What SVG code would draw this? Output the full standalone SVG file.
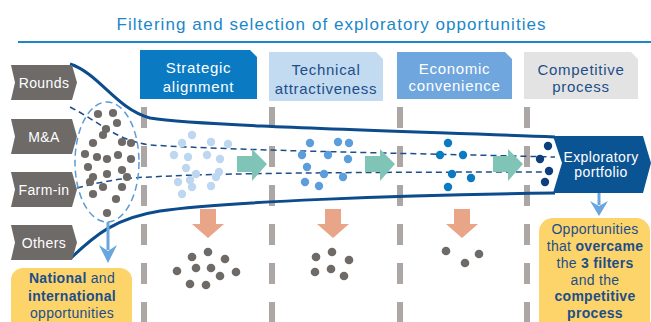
<svg xmlns="http://www.w3.org/2000/svg" width="651" height="322" viewBox="0 0 651 322">
<style>
text{font-family:"Liberation Sans",Arial,sans-serif}
.title{font-size:17px;fill:#1a87c8}
.lab{font-size:14px;fill:#fff;letter-spacing:0.4px}
.chev{fill:#6e6a68}
.hd{font-size:15px;letter-spacing:0.7px}
.w{fill:#fff}
.dk{fill:#1d4e89}
.yt{font-size:14px;fill:#1d4e89;letter-spacing:0.3px}
.b{font-weight:bold}
.bar{stroke:#aca7a5;stroke-width:6;stroke-dasharray:21 18}
.curve{fill:none;stroke:#0c4c8c;stroke-width:3}
.dash{fill:none;stroke:#1d4e89;stroke-width:1.5;stroke-dasharray:6 4}
.g{fill:#6e6a68}
.d1{fill:#bcd7ef}
.d2{fill:#5c9ddb}
.d3{fill:#0a7bc2}
.d4{fill:#0c3f7c}
.teal{fill:#7fc4b6}
.sal{fill:#e8a587}
.yel{fill:#fdd46a}
.barrow{fill:#6aa6de}
</style>
<defs>
<path id="chev" d="M0,0 H61 L66,17.5 L61,35 H0 L4,17.5 Z"/>
<path id="teal" d="M0,-8 H15 V-15 L30,0 L15,17 V8 H0 Z"/>
<path id="sal" d="M-8,0 H8 V15 H16 L0,29 L-16,15 H-8 Z"/>
</defs>

<g id="title">
<text class="title" x="331" y="30" text-anchor="middle" textLength="429" lengthAdjust="spacing">Filtering and selection of exploratory opportunities</text>
<line x1="18" y1="42" x2="651" y2="42" stroke="#1a87c8" stroke-width="2"/>
</g>

<g id="filters">
<line class="bar" x1="144" y1="107" x2="144" y2="322"/>
<line class="bar" x1="272" y1="107" x2="272" y2="322"/>
<line class="bar" x1="400" y1="107" x2="400" y2="322"/>
<line class="bar" x1="527" y1="107" x2="527" y2="322"/>
</g>

<g id="connectors">
<path class="curve" d="M70,64 C100,74 115,108 150,118 C200,126 400,131 555,137"/>
<path class="curve" d="M70,259 C95,235 115,218 160,211 C220,202 400,195 555,193"/>
<path class="dash" d="M70,107 C100,122 115,140 150,145 C250,151 400,153 555,157"/>
<path class="dash" d="M77,188 C100,182 120,178 150,177 C200,174 300,172 555,172"/>
<ellipse cx="107" cy="162" rx="32" ry="60" fill="none" stroke="#5b9bd5" stroke-width="1.5" stroke-dasharray="7 4"/>
<line x1="108" y1="222" x2="108" y2="250" stroke="#6aa6de" stroke-width="3"/>
<polygon class="barrow" points="99,245 108,263 117,245 108,251"/>
<line x1="599" y1="193" x2="599" y2="205" stroke="#6aa6de" stroke-width="3"/>
<polygon class="barrow" points="590,201 599,216 608,201 599,206"/>
<use href="#teal" class="teal" x="237" y="164"/>
<use href="#teal" class="teal" x="365" y="164"/>
<use href="#teal" class="teal" x="493" y="164"/>
<use href="#sal" class="sal" x="208" y="209"/>
<use href="#sal" class="sal" x="333" y="209"/>
<use href="#sal" class="sal" x="462" y="209"/>
</g>

<g id="rounds"><use href="#chev" class="chev" x="11" y="65"/><text class="lab" x="44" y="87.5" text-anchor="middle">Rounds</text></g>
<g id="ma"><use href="#chev" class="chev" x="11" y="119"/><text class="lab" x="44" y="141.5" text-anchor="middle">M&amp;A</text></g>
<g id="farmin"><use href="#chev" class="chev" x="11" y="172"/><text class="lab" x="44" y="194.5" text-anchor="middle">Farm-in</text></g>
<g id="others"><use href="#chev" class="chev" x="11" y="225"/><text class="lab" x="44" y="247.5" text-anchor="middle">Others</text></g>

<g id="strategic">
<path d="M140,50 H250 L257,57 V99 H140 Z" fill="#0a7bc2"/>
<text class="hd w" x="198.5" y="73" text-anchor="middle">Strategic</text>
<text class="hd w" x="198.5" y="92" text-anchor="middle">alignment</text>
</g>
<g id="technical">
<path d="M269,52 H376 L383,59 V101 H269 Z" fill="#c3dbf0"/>
<text class="hd dk" x="326" y="75" text-anchor="middle">Technical</text>
<text class="hd dk" x="326" y="94" text-anchor="middle">attractiveness</text>
</g>
<g id="economic">
<path d="M397,52 H505 L512,59 V99 H397 Z" fill="#6ea6dd"/>
<text class="hd w" x="454.5" y="74" text-anchor="middle">Economic</text>
<text class="hd w" x="454.5" y="91" text-anchor="middle">convenience</text>
</g>
<g id="competitive">
<path d="M524,52 H631 L638,59 V99 H524 Z" fill="#e3e3e3"/>
<text class="hd dk" x="581" y="75" text-anchor="middle">Competitive</text>
<text class="hd dk" x="581" y="92" text-anchor="middle">process</text>
</g>

<g id="pool">
<circle class="g" cx="98" cy="114" r="4.1"/><circle class="g" cx="113" cy="113" r="4.1"/><circle class="g" cx="117" cy="123" r="4.1"/>
<circle class="g" cx="106" cy="129" r="4.1"/><circle class="g" cx="103" cy="135" r="4.1"/><circle class="g" cx="93" cy="143" r="4.1"/>
<circle class="g" cx="122" cy="142" r="4.1"/><circle class="g" cx="131" cy="143" r="4.1"/><circle class="g" cx="85" cy="154" r="4.1"/>
<circle class="g" cx="97" cy="157" r="4.1"/><circle class="g" cx="107" cy="159" r="4.1"/><circle class="g" cx="118" cy="155" r="4.1"/>
<circle class="g" cx="131" cy="159" r="4.1"/><circle class="g" cx="88" cy="167" r="4.1"/><circle class="g" cx="107" cy="174" r="4.1"/>
<circle class="g" cx="122" cy="170" r="4.1"/><circle class="g" cx="127" cy="177" r="4.1"/><circle class="g" cx="93" cy="177" r="4.1"/>
<circle class="g" cx="90" cy="182" r="4.1"/><circle class="g" cx="103" cy="187" r="4.1"/><circle class="g" cx="122" cy="187" r="4.1"/>
<circle class="g" cx="93" cy="194" r="4.1"/><circle class="g" cx="116" cy="199" r="4.1"/><circle class="g" cx="107" cy="213" r="4.1"/>
</g>

<g id="stage1">
<circle class="d1" cx="192" cy="135" r="4.2"/><circle class="d1" cx="182" cy="143" r="4.2"/><circle class="d1" cx="211" cy="142" r="4.2"/>
<circle class="d1" cx="228" cy="144" r="4.2"/><circle class="d1" cx="174" cy="155" r="4.2"/><circle class="d1" cx="188" cy="157" r="4.2"/>
<circle class="d1" cx="207" cy="155" r="4.2"/><circle class="d1" cx="220" cy="159" r="4.2"/><circle class="d1" cx="186" cy="168" r="4.2"/>
<circle class="d1" cx="196" cy="174" r="4.2"/><circle class="d1" cx="219" cy="172" r="4.2"/><circle class="d1" cx="190" cy="180" r="4.2"/>
<circle class="d1" cx="216" cy="177" r="4.2"/><circle class="d1" cx="178" cy="182" r="4.2"/><circle class="d1" cx="192" cy="187" r="4.2"/>
<circle class="d1" cx="211" cy="186" r="4.2"/><circle class="d1" cx="182" cy="194" r="4.2"/>
</g>
<g id="stage2">
<circle class="d2" cx="310" cy="143" r="4.2"/><circle class="d2" cx="338" cy="142" r="4.2"/><circle class="d2" cx="349" cy="143" r="4.2"/>
<circle class="d2" cx="302" cy="155" r="4.2"/><circle class="d2" cx="328" cy="155" r="4.2"/><circle class="d2" cx="348" cy="159" r="4.2"/>
<circle class="d2" cx="307" cy="167" r="4.2"/><circle class="d2" cx="324" cy="174" r="4.2"/><circle class="d2" cx="343" cy="177" r="4.2"/>
<circle class="d2" cx="305" cy="182" r="4.2"/><circle class="d2" cx="319" cy="186" r="4.2"/>
</g>
<g id="stage3">
<circle class="d3" cx="448" cy="143" r="4.2"/><circle class="d3" cx="440" cy="155" r="4.2"/><circle class="d3" cx="463" cy="155" r="4.2"/>
<circle class="d3" cx="452" cy="174" r="4.2"/><circle class="d3" cx="471" cy="178" r="4.2"/><circle class="d3" cx="448" cy="187" r="4.2"/>
</g>

<g id="portfolio">
<path d="M553,136 H643 L651,163 L643,193 H553 L562,163 Z" fill="#0b5494"/>
<text x="601" y="162" font-size="14" fill="#fff" letter-spacing="0.4" text-anchor="middle">Exploratory</text>
<text x="601" y="177" font-size="14" fill="#fff" letter-spacing="0.4" text-anchor="middle">portfolio</text>
</g>
<g id="stage4">
<circle class="d4" cx="548" cy="146" r="4.2"/><circle class="d4" cx="540" cy="159" r="4.2"/><circle class="d4" cx="549" cy="171" r="4.2"/><circle class="d4" cx="545" cy="182" r="4.2"/>
</g>

<g id="rejected1">
<circle class="g" cx="208" cy="252" r="4.3"/><circle class="g" cx="225" cy="259" r="4.3"/><circle class="g" cx="192" cy="257" r="4.3"/>
<circle class="g" cx="177" cy="271" r="4.3"/><circle class="g" cx="196" cy="268" r="4.3"/><circle class="g" cx="211" cy="268" r="4.3"/>
<circle class="g" cx="220" cy="276" r="4.3"/><circle class="g" cx="236" cy="272" r="4.3"/><circle class="g" cx="190" cy="284" r="4.3"/>
<circle class="g" cx="206" cy="285" r="4.3"/>
</g>
<g id="rejected2">
<circle class="g" cx="316" cy="257" r="4.3"/><circle class="g" cx="332" cy="252" r="4.3"/><circle class="g" cx="349" cy="260" r="4.3"/>
<circle class="g" cx="315" cy="272" r="4.3"/><circle class="g" cx="331" cy="269" r="4.3"/><circle class="g" cx="344" cy="276" r="4.3"/>
</g>
<g id="rejected3">
<circle class="g" cx="446" cy="251" r="4.3"/><circle class="g" cx="479" cy="254" r="4.3"/><circle class="g" cx="465" cy="263" r="4.3"/>
</g>

<g id="opportunities">
<rect class="yel" x="11" y="268" width="121" height="70" rx="12"/>
<text class="yt" x="72" y="283" text-anchor="middle"><tspan class="b">National</tspan> and</text>
<text class="yt b" x="72" y="301" text-anchor="middle">international</text>
<text class="yt" x="72" y="318" text-anchor="middle">opportunities</text>
</g>
<g id="overcame">
<rect class="yel" x="539" y="218" width="111" height="120" rx="14"/>
<text class="yt" x="595" y="234" text-anchor="middle">Opportunities</text>
<text class="yt" x="595" y="251" text-anchor="middle">that <tspan class="b">overcame</tspan></text>
<text class="yt" x="595" y="268" text-anchor="middle">the <tspan class="b">3 filters</tspan></text>
<text class="yt" x="595" y="285" text-anchor="middle">and the</text>
<text class="yt b" x="595" y="301" text-anchor="middle">competitive</text>
<text class="yt b" x="595" y="318" text-anchor="middle">process</text>
</g>
</svg>
